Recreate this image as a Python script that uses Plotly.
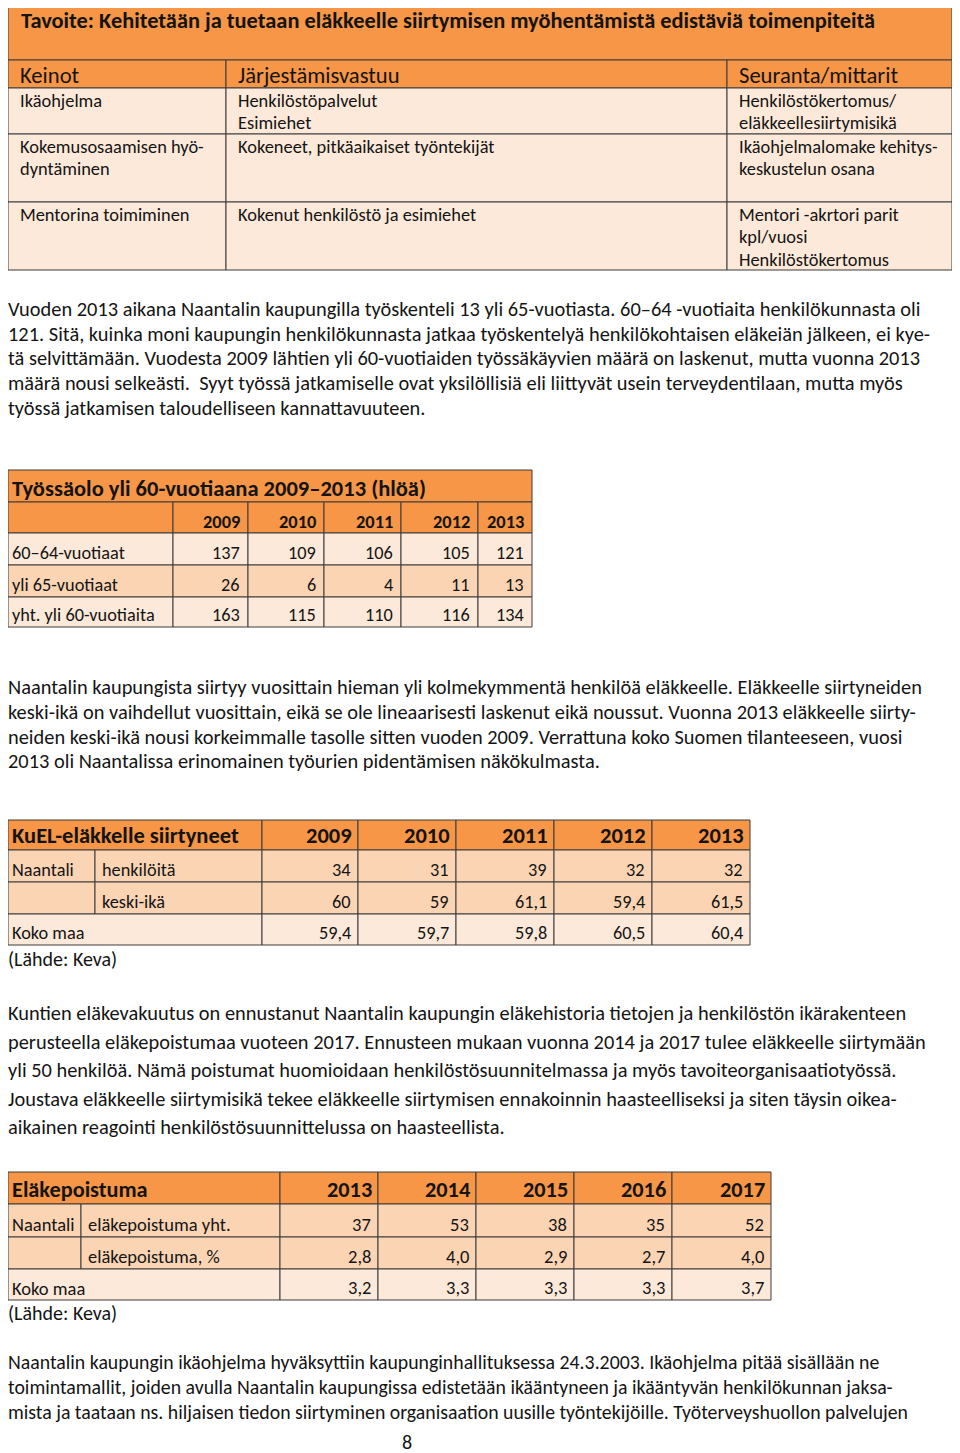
import plotly.graph_objects as go

# ---------------- DATA ----------------
t1_title = "Tavoite: Kehitetään ja tuetaan eläkkeelle siirtymisen myöhentämistä edistäviä toimenpiteitä"
t1_headers = ["Keinot", "Järjestämisvastuu", "Seuranta/mittarit"]
t1_keinot = [["Ikäohjelma"], ["Kokemusosaamisen hyö-", "dyntäminen"], ["Mentorina toimiminen"]]
t1_vastuu = [["Henkilöstöpalvelut", "Esimiehet"], ["Kokeneet, pitkäaikaiset työntekijät"],
             ["Kokenut henkilöstö ja esimiehet"]]
t1_mittarit = [["Henkilöstökertomus/", "eläkkeellesiirtymisikä"], ["Ikäohjelmalomake kehitys-", "keskustelun osana"],
               ["Mentori -akrtori parit", "kpl/vuosi", "Henkilöstökertomus"]]

p1_lines = [
    "Vuoden 2013 aikana Naantalin kaupungilla työskenteli 13 yli 65-vuotiasta. 60–64 -vuotiaita henkilökunnasta oli",
    "121. Sitä, kuinka moni kaupungin henkilökunnasta jatkaa työskentelyä henkilökohtaisen eläkeiän jälkeen, ei kye-",
    "tä selvittämään. Vuodesta 2009 lähtien yli 60-vuotiaiden työssäkäyvien määrä on laskenut, mutta vuonna 2013",
    "määrä nousi selkeästi.  Syyt työssä jatkamiselle ovat yksilöllisiä eli liittyvät usein terveydentilaan, mutta myös",
    "työssä jatkamisen taloudelliseen kannattavuuteen.",
]

t2_title = "Työssäolo yli 60-vuotiaana 2009–2013 (hlöä)"
t2_years = ["2009", "2010", "2011", "2012", "2013"]
t2_rows = ["60–64-vuotiaat", "yli 65-vuotiaat", "yht. yli 60-vuotiaita"]
t2_60_64 = [137, 109, 106, 105, 121]
t2_yli65 = [26, 6, 4, 11, 13]
t2_yht = [163, 115, 110, 116, 134]

p2_lines = [
    "Naantalin kaupungista siirtyy vuosittain hieman yli kolmekymmentä henkilöä eläkkeelle. Eläkkeelle siirtyneiden",
    "keski-ikä on vaihdellut vuosittain, eikä se ole lineaarisesti laskenut eikä noussut. Vuonna 2013 eläkkeelle siirty-",
    "neiden keski-ikä nousi korkeimmalle tasolle sitten vuoden 2009. Verrattuna koko Suomen tilanteeseen, vuosi",
    "2013 oli Naantalissa erinomainen työurien pidentämisen näkökulmasta.",
]

t3_title = "KuEL-eläkkelle siirtyneet"
t3_years = ["2009", "2010", "2011", "2012", "2013"]
t3_group = "Naantali"
t3_labels = ["henkilöitä", "keski-ikä", "Koko maa"]
t3_henkiloita = [34, 31, 39, 32, 32]
t3_keski_ika = [60, 59, 61.1, 59.4, 61.5]
t3_koko_maa = [59.4, 59.7, 59.8, 60.5, 60.4]
source_note = "(Lähde: Keva)"

p3_lines = [
    "Kuntien eläkevakuutus on ennustanut Naantalin kaupungin eläkehistoria tietojen ja henkilöstön ikärakenteen",
    "perusteella eläkepoistumaa vuoteen 2017. Ennusteen mukaan vuonna 2014 ja 2017 tulee eläkkeelle siirtymään",
    "yli 50 henkilöä. Nämä poistumat huomioidaan henkilöstösuunnitelmassa ja myös tavoiteorganisaatiotyössä.",
    "Joustava eläkkeelle siirtymisikä tekee eläkkeelle siirtymisen ennakoinnin haasteelliseksi ja siten täysin oikea-",
    "aikainen reagointi henkilöstösuunnittelussa on haasteellista.",
]

t4_title = "Eläkepoistuma"
t4_years = ["2013", "2014", "2015", "2016", "2017"]
t4_group = "Naantali"
t4_labels = ["eläkepoistuma yht.", "eläkepoistuma, %", "Koko maa"]
t4_yht = [37, 53, 38, 35, 52]
t4_pct = [2.8, 4.0, 2.9, 2.7, 4.0]
t4_koko_maa = [3.2, 3.3, 3.3, 3.3, 3.7]

p4_lines = [
    "Naantalin kaupungin ikäohjelma hyväksyttiin kaupunginhallituksessa 24.3.2003. Ikäohjelma pitää sisällään ne",
    "toimintamallit, joiden avulla Naantalin kaupungissa edistetään ikääntyneen ja ikääntyvän henkilökunnan jaksa-",
    "mista ja taataan ns. hiljaisen tiedon siirtyminen organisaation uusille työntekijöille. Työterveyshuollon palvelujen",
]
page_number = "8"

# ---------------- STYLE / LAYOUT ----------------
W, H = 960, 1453
OFF = 8  # default page body margin
FONT = "Carlito, Lato, sans-serif"
ORANGE = "#F79646"
LIGHT = "#FDE9D9"
MID = "#FBD4B4"
BORDER = "#3c3c3c"
TXT = "#141414"
PX = 8.5  # paragraph left x
PSHIFT = -3

fig = go.Figure()
shapes = []
annos = []


def fmt(v, dec=None):
    if dec is None:
        if float(v).is_integer():
            return str(int(v))
        return str(v).replace(".", ",")
    return f"{v:.{dec}f}".replace(".", ",")


def cell(x0, x1, y0, y1, fill):
    shapes.append(dict(type="rect", xref="x", yref="y", x0=x0, x1=x1, y0=y0, y1=y1,
                       fillcolor=fill, line=dict(color=BORDER, width=1), layer="below"))


def text(x, y, s, size, bold=False, anchor="left", xshift=0):
    annos.append(dict(xref="x", yref="y", x=x, y=y, text=f"<b>{s}</b>" if bold else s,
                      showarrow=False, xanchor=anchor, yanchor="middle", xshift=xshift,
                      font=dict(family=FONT, size=size, color=TXT)))


# ---- Table 1 ----
c1 = [8, 226, 727, 952]
r1 = [3, 60, 88, 134, 202, 270]
cell(c1[0], c1[-1], r1[0], r1[1], ORANGE)
text(c1[0] + 11, r1[0] + 17, t1_title, 22.4, bold=True)
for j, h in enumerate(t1_headers):
    cell(c1[j], c1[j + 1], r1[1], r1[2], ORANGE)
    text(c1[j] + 10, (r1[1] + r1[2]) / 2 + 1, h, 22.6)
for i in range(3):
    y0, y1 = r1[i + 2], r1[i + 3]
    for j, col in enumerate([t1_keinot, t1_vastuu, t1_mittarit]):
        cell(c1[j], c1[j + 1], y0, y1, LIGHT)
        for k, line in enumerate(col[i]):
            text(c1[j] + 10, y0 + 12 + 22.5 * k, line, 18.4)

# ---- Paragraph 1 ----
PSIZE = 20.4
for k, line in enumerate(p1_lines):
    text(PX, 309 + 24.7 * k, line, PSIZE, xshift=PSHIFT)

# ---- Table 2 ----
c2 = [8, 173, 248, 324, 401, 478, 532]
r2 = [470, 502, 533, 565, 597, 627]
cell(c2[0], c2[-1], r2[0], r2[1], ORANGE)
text(c2[0] + 2, r2[1] - 14, t2_title, 22.5, bold=True)
for j in range(6):
    cell(c2[j], c2[j + 1], r2[1], r2[2], ORANGE)
    if j > 0:
        text(c2[j + 1] - 6, r2[2] - 12, t2_years[j - 1], 18.4, bold=True, anchor="right")
t2_vals = [t2_60_64, t2_yli65, t2_yht]
t2_fill = [LIGHT, MID, LIGHT]
for i in range(3):
    y0, y1 = r2[i + 2], r2[i + 3]
    for j in range(6):
        cell(c2[j], c2[j + 1], y0, y1, t2_fill[i])
    text(c2[0] + 2, y1 - 12, t2_rows[i], 18.3)
    for j, v in enumerate(t2_vals[i]):
        text(c2[j + 2] - 6, y1 - 12, fmt(v), 18.3, anchor="right")

# ---- Paragraph 2 ----
for k, line in enumerate(p2_lines):
    text(PX, 687 + 24.8 * k, line, PSIZE, xshift=PSHIFT)


def stat_table(cols, rows, title, years, group, labels, vals, decs, tsize, bsize):
    cell(cols[0], cols[2], rows[0], rows[1], ORANGE)
    text(cols[0] + 2, rows[1] - 15, title, tsize, bold=True)
    for j in range(5):
        cell(cols[j + 2], cols[j + 3], rows[0], rows[1], ORANGE)
        text(cols[j + 3] - 4, rows[1] - 15, years[j], tsize, bold=True, anchor="right")
    for i in range(3):
        y0, y1 = rows[i + 1], rows[i + 2]
        fill = MID if i < 2 else LIGHT
        if i < 2:
            cell(cols[0], cols[1], y0, y1, fill)
            cell(cols[1], cols[2], y0, y1, fill)
            if i == 0:
                text(cols[0] + 2, y1 - 12.5, group, bsize)
            text(cols[1] + 5, y1 - 12.5, labels[i], bsize)
        else:
            cell(cols[0], cols[2], y0, y1, fill)
            text(cols[0] + 2, y1 - 12, labels[i], bsize)
        for j, v in enumerate(vals[i]):
            cell(cols[j + 2], cols[j + 3], y0, y1, fill)
            text(cols[j + 3] - 5, y1 - 12.5, fmt(v, decs[i]), bsize, anchor="right")


# ---- Table 3 ----
c3 = [8, 95, 262, 358, 456, 554, 652, 750]
r3 = [820, 850, 882, 914, 945]
stat_table(c3, r3, t3_title, t3_years, t3_group, t3_labels,
           [t3_henkiloita, t3_keski_ika, t3_koko_maa], [None, None, 1], 22.5, 18.3)
text(PX, 959, source_note, 20, xshift=PSHIFT)

# ---- Paragraph 3 ----
for k, line in enumerate(p3_lines):
    text(PX, 1013 + 28.5 * k, line, 20.4, xshift=PSHIFT)

# ---- Table 4 ----
c4 = [8, 81, 280, 378, 476, 574, 672, 771]
r4 = [1172, 1204, 1237, 1269, 1300]
stat_table(c4, r4, t4_title, t4_years, t4_group, t4_labels,
           [t4_yht, t4_pct, t4_koko_maa], [None, 1, 1], 22.3, 18.5)
text(PX, 1313, source_note, 20, xshift=PSHIFT)

# ---- Paragraph 4 ----
for k, line in enumerate(p4_lines):
    text(PX, 1362 + 25 * k, line, 19.8, xshift=PSHIFT)
text(407, 1442, page_number, 20, anchor="center")

fig.update_layout(
    width=W - OFF, height=H - OFF, margin=dict(l=0, r=0, t=0, b=0),
    paper_bgcolor="white", plot_bgcolor="white",
    xaxis=dict(range=[OFF, W], visible=False, fixedrange=True),
    yaxis=dict(range=[H, OFF], visible=False, fixedrange=True),
    shapes=shapes, annotations=annos, showlegend=False,
)
fig.write_html("out.html", config={"displayModeBar": False})
